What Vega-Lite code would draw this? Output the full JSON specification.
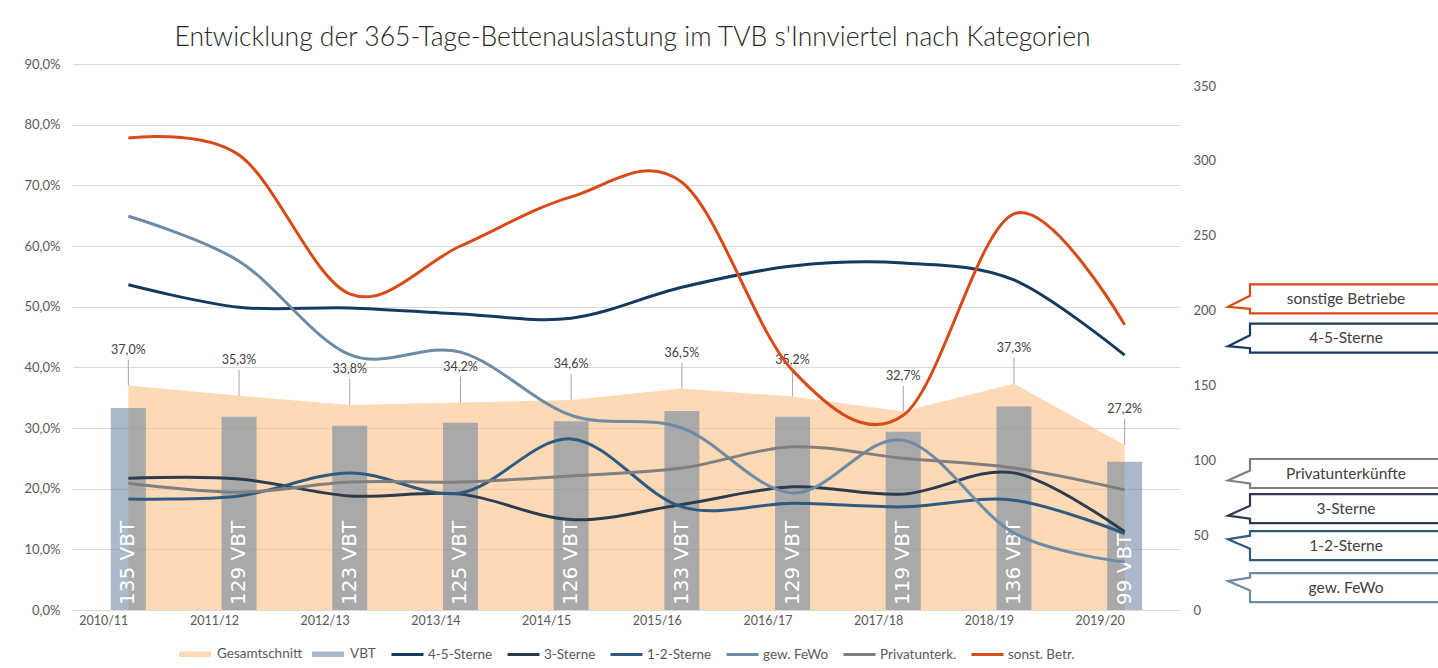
{
  "$schema": "https://vega.github.io/schema/vega-lite/v6.json",
  "width": 1107,
  "height": 546,
  "autosize": {"type": "none"},
  "padding": {"left": 73, "top": 64, "right": 258, "bottom": 58},
  "background": "white",
  "title": {
    "text": "Entwicklung der 365-Tage-Bettenauslastung im TVB s'Innviertel nach Kategorien",
    "fontSize": 26.5, "font": "Lato", "fontWeight": 300, "color": "#262626",
    "anchor": "middle", "offset": 7, "dx": 6
  },
  "config": {
    "locale": {"number": {"decimal": ",", "thousands": ".", "grouping": [3], "currency": ["", " €"]}},
    "view": {"stroke": null},
    "font": "Lato",
    "axis": {"labelFont": "Lato", "labelFontSize": 13, "labelColor": "#595959", "ticks": false, "domain": false, "title": null, "gridColor": "#d9d9d9"},
    "legend": {
      "labelFont": "Lato", "labelFontSize": 13.5, "labelColor": "#595959", "offset": 10,
      "layout": {"bottom": {"anchor": "middle", "margin": 14}}
    }
  },
  "datasets": {
    "main": [
      {"year": "2010/11", "total": 0.370, "vbt": 135},
      {"year": "2011/12", "total": 0.353, "vbt": 129},
      {"year": "2012/13", "total": 0.338, "vbt": 123},
      {"year": "2013/14", "total": 0.342, "vbt": 125},
      {"year": "2014/15", "total": 0.346, "vbt": 126},
      {"year": "2015/16", "total": 0.365, "vbt": 133},
      {"year": "2016/17", "total": 0.352, "vbt": 129},
      {"year": "2017/18", "total": 0.327, "vbt": 119},
      {"year": "2018/19", "total": 0.373, "vbt": 136},
      {"year": "2019/20", "total": 0.272, "vbt": 99}
    ],
    "lines": [
      {"year": "2010/11", "series": "4-5-Sterne", "value": 0.536},
      {"year": "2011/12", "series": "4-5-Sterne", "value": 0.499},
      {"year": "2012/13", "series": "4-5-Sterne", "value": 0.498},
      {"year": "2013/14", "series": "4-5-Sterne", "value": 0.488},
      {"year": "2014/15", "series": "4-5-Sterne", "value": 0.481},
      {"year": "2015/16", "series": "4-5-Sterne", "value": 0.532},
      {"year": "2016/17", "series": "4-5-Sterne", "value": 0.567},
      {"year": "2017/18", "series": "4-5-Sterne", "value": 0.572},
      {"year": "2018/19", "series": "4-5-Sterne", "value": 0.544},
      {"year": "2019/20", "series": "4-5-Sterne", "value": 0.420},
      {"year": "2010/11", "series": "3-Sterne", "value": 0.217},
      {"year": "2011/12", "series": "3-Sterne", "value": 0.216},
      {"year": "2012/13", "series": "3-Sterne", "value": 0.188},
      {"year": "2013/14", "series": "3-Sterne", "value": 0.191},
      {"year": "2014/15", "series": "3-Sterne", "value": 0.149},
      {"year": "2015/16", "series": "3-Sterne", "value": 0.174},
      {"year": "2016/17", "series": "3-Sterne", "value": 0.203},
      {"year": "2017/18", "series": "3-Sterne", "value": 0.191},
      {"year": "2018/19", "series": "3-Sterne", "value": 0.226},
      {"year": "2019/20", "series": "3-Sterne", "value": 0.129},
      {"year": "2010/11", "series": "1-2-Sterne", "value": 0.183},
      {"year": "2011/12", "series": "1-2-Sterne", "value": 0.188},
      {"year": "2012/13", "series": "1-2-Sterne", "value": 0.226},
      {"year": "2013/14", "series": "1-2-Sterne", "value": 0.193},
      {"year": "2014/15", "series": "1-2-Sterne", "value": 0.282},
      {"year": "2015/16", "series": "1-2-Sterne", "value": 0.170},
      {"year": "2016/17", "series": "1-2-Sterne", "value": 0.176},
      {"year": "2017/18", "series": "1-2-Sterne", "value": 0.170},
      {"year": "2018/19", "series": "1-2-Sterne", "value": 0.181},
      {"year": "2019/20", "series": "1-2-Sterne", "value": 0.126},
      {"year": "2010/11", "series": "gew. FeWo", "value": 0.649},
      {"year": "2011/12", "series": "gew. FeWo", "value": 0.575},
      {"year": "2012/13", "series": "gew. FeWo", "value": 0.421},
      {"year": "2013/14", "series": "gew. FeWo", "value": 0.425},
      {"year": "2014/15", "series": "gew. FeWo", "value": 0.321},
      {"year": "2015/16", "series": "gew. FeWo", "value": 0.300},
      {"year": "2016/17", "series": "gew. FeWo", "value": 0.193},
      {"year": "2017/18", "series": "gew. FeWo", "value": 0.280},
      {"year": "2018/19", "series": "gew. FeWo", "value": 0.127},
      {"year": "2019/20", "series": "gew. FeWo", "value": 0.079},
      {"year": "2010/11", "series": "Privatunterk.", "value": 0.209},
      {"year": "2011/12", "series": "Privatunterk.", "value": 0.194},
      {"year": "2012/13", "series": "Privatunterk.", "value": 0.211},
      {"year": "2013/14", "series": "Privatunterk.", "value": 0.211},
      {"year": "2014/15", "series": "Privatunterk.", "value": 0.221},
      {"year": "2015/16", "series": "Privatunterk.", "value": 0.234},
      {"year": "2016/17", "series": "Privatunterk.", "value": 0.269},
      {"year": "2017/18", "series": "Privatunterk.", "value": 0.250},
      {"year": "2018/19", "series": "Privatunterk.", "value": 0.234},
      {"year": "2019/20", "series": "Privatunterk.", "value": 0.198},
      {"year": "2010/11", "series": "sonst. Betr.", "value": 0.778},
      {"year": "2011/12", "series": "sonst. Betr.", "value": 0.750},
      {"year": "2012/13", "series": "sonst. Betr.", "value": 0.521},
      {"year": "2013/14", "series": "sonst. Betr.", "value": 0.600},
      {"year": "2014/15", "series": "sonst. Betr.", "value": 0.681},
      {"year": "2015/16", "series": "sonst. Betr.", "value": 0.705},
      {"year": "2016/17", "series": "sonst. Betr.", "value": 0.395},
      {"year": "2017/18", "series": "sonst. Betr.", "value": 0.321},
      {"year": "2018/19", "series": "sonst. Betr.", "value": 0.653},
      {"year": "2019/20", "series": "sonst. Betr.", "value": 0.470}
    ],
    "callouts": [
      {"series": "sonst. Betr.", "label": "sonstige Betriebe", "pos": 0.513},
      {"series": "4-5-Sterne", "label": "4-5-Sterne", "pos": 0.448},
      {"series": "Privatunterk.", "label": "Privatunterkünfte", "pos": 0.225},
      {"series": "3-Sterne", "label": "3-Sterne", "pos": 0.167},
      {"series": "1-2-Sterne", "label": "1-2-Sterne", "pos": 0.106},
      {"series": "gew. FeWo", "label": "gew. FeWo", "pos": 0.037}
    ]
  },
  "layer": [
    {
      "data": {"name": "main"},
      "encoding": {
        "x": {"field": "year", "type": "nominal", "sort": null},
        "y": {
          "field": "total", "type": "quantitative",
          "scale": {"domain": [0, 0.9], "nice": false},
          "axis": {"format": ".1%", "values": [0, 0.1, 0.2, 0.3, 0.4, 0.5, 0.6, 0.7, 0.8, 0.9], "grid": true, "labelPadding": 13}
        }
      },
      "layer": [
        {
          "mark": {"type": "area", "fill": "#fbba79", "opacity": 0.55},
          "encoding": {
            "fill": {
              "datum": "Gesamtschnitt", "type": "nominal",
              "scale": {"domain": ["Gesamtschnitt", "VBT"], "range": ["#fbba79", "#6482a0"]},
              "legend": {"title": null, "orient": "bottom", "direction": "horizontal", "symbolType": "M-1,-0.17H1V0.17H-1Z", "symbolSize": 1024, "symbolOpacity": 0.55, "columnPadding": 8, "labelOffset": 5}
            }
          }
        },
        {
          "mark": {"type": "rule", "color": "#a6a6a6", "strokeWidth": 1, "y2Offset": -26},
          "encoding": {"y2": {"field": "total"}}
        },
        {
          "mark": {"type": "text", "dy": -36, "fontSize": 12.5, "color": "#404040", "font": "Lato"},
          "encoding": {"text": {"field": "total", "type": "quantitative", "format": ".1%"}}
        }
      ]
    },
    {
      "data": {"name": "main"},
      "transform": [{"calculate": "datum.vbt + ' VBT'", "as": "vbtLabel"}],
      "encoding": {
        "x": {
          "field": "year", "type": "nominal", "sort": null,
          "scale": {"type": "band", "paddingInner": 0.684, "paddingOuter": 0.342},
          "axis": {"labelAngle": 0, "labelPadding": 10, "labelFontSize": 12.5}
        },
        "y": {
          "field": "vbt", "type": "quantitative",
          "scale": {"domain": [0, 364.7], "nice": false},
          "axis": {"values": [0, 50, 100, 150, 200, 250, 300, 350], "grid": false, "labelPadding": 13, "orient": "right"}
        }
      },
      "layer": [
        {
          "mark": {"type": "bar", "opacity": 0.55},
          "encoding": {"fill": {"datum": "VBT", "type": "nominal"}}
        },
        {
          "mark": {"type": "text", "angle": 270, "align": "left", "baseline": "middle", "dx": 5, "fontSize": 20, "font": "DejaVu Sans", "color": "white"},
          "encoding": {"y": {"datum": 0}, "text": {"field": "vbtLabel"}}
        }
      ]
    },
    {
      "layer": [
        {
          "data": {"name": "lines"},
          "mark": {"type": "line", "interpolate": "cardinal", "tension": 0, "strokeWidth": 3},
          "encoding": {
            "x": {"field": "year", "type": "nominal", "sort": null},
            "y": {"field": "value", "type": "quantitative", "scale": {"domain": [0, 0.9], "nice": false}, "axis": null},
            "stroke": {
              "field": "series", "type": "nominal",
              "scale": {
                "domain": ["4-5-Sterne", "3-Sterne", "1-2-Sterne", "gew. FeWo", "Privatunterk.", "sonst. Betr."],
                "range": ["#163a5f", "#2c3c4e", "#2f5a80", "#6b8ba6", "#7f7f7f", "#d84a18"]
              },
              "legend": {"title": null, "orient": "bottom", "direction": "horizontal", "symbolType": "stroke", "symbolSize": 1024, "symbolStrokeWidth": 3, "columnPadding": 8, "labelOffset": 3}
            }
          }
        },
        {
          "data": {"name": "callouts"},
          "mark": {"type": "point", "x": {"expr": "width + 166"}, "filled": true, "fill": "white", "size": 40000, "strokeWidth": 2.2, "opacity": 1},
          "encoding": {
            "y": {"field": "pos", "type": "quantitative", "axis": null},
            "stroke": {"field": "series", "type": "nominal", "legend": null},
            "shape": {
              "field": "series", "type": "nominal", "legend": null,
              "scale": {
                "domain": ["sonst. Betr.", "4-5-Sterne", "Privatunterk.", "3-Sterne", "1-2-Sterne", "gew. FeWo"],
                "range": [
                  "M-0.96,-0.145H0.96V0.145H-0.96V0.10L-1.18,0.08L-0.96,-0.03Z",
                  "M-0.96,-0.145H0.96V0.145H-0.96V0.10L-1.18,0.08L-0.96,-0.03Z",
                  "M-0.96,-0.145H0.96V0.145H-0.96V0.10L-1.18,0.07L-0.96,-0.03Z",
                  "M-0.96,-0.145H0.96V0.145H-0.96V0.10L-1.18,0.07L-0.96,-0.03Z",
                  "M-0.96,-0.145H0.96V0.145H-0.96V0.03L-1.18,-0.065L-0.96,-0.10Z",
                  "M-0.96,-0.145H0.96V0.145H-0.96V0.03L-1.18,-0.065L-0.96,-0.10Z"
                ]
              }
            }
          }
        },
        {
          "data": {"name": "callouts"},
          "mark": {"type": "text", "x": {"expr": "width + 166"}, "fontSize": 15.5, "font": "Lato", "color": "#404040", "baseline": "middle", "align": "center"},
          "encoding": {
            "y": {"field": "pos", "type": "quantitative", "axis": null},
            "text": {"field": "label"}
          }
        }
      ]
    }
  ],
  "resolve": {"scale": {"y": "independent"}}
}
